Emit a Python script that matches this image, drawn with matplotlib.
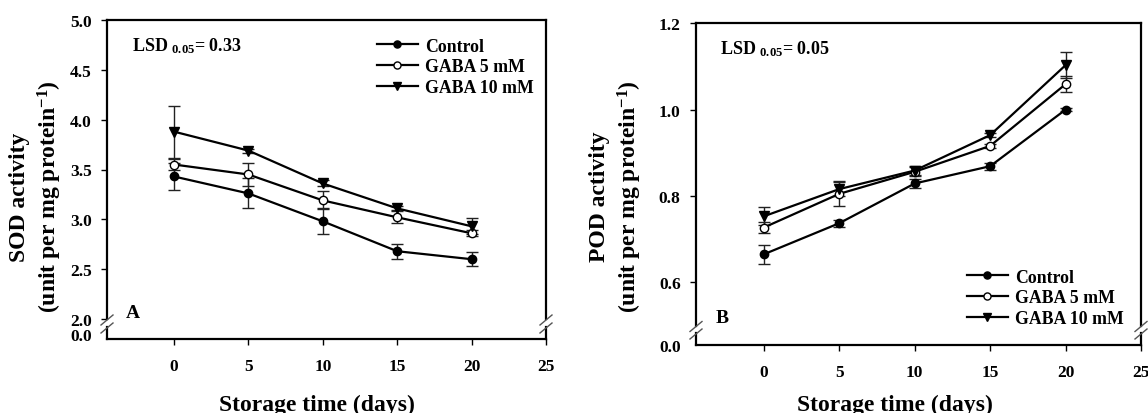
import numpy as np
import matplotlib
matplotlib.use('Agg')
import matplotlib.pyplot as plt
from matplotlib.lines import Line2D

plt.rcParams['font.family'] = ['Liberation Serif', 'DejaVu Serif']
plt.rcParams['font.weight'] = 'bold'
plt.rcParams['mathtext.fontset'] = 'custom'
plt.rcParams['mathtext.rm'] = 'Liberation Serif:bold'
plt.rcParams['mathtext.bf'] = 'Liberation Serif:bold'
plt.rcParams['mathtext.it'] = 'Liberation Serif:bold'

# ---------------- data ----------------
days = [0, 5, 10, 15, 20]
series_names = ['Control', 'GABA 5 mM', 'GABA 10 mM']

sod_control = [3.43, 3.26, 2.98, 2.68, 2.60]
sod_control_err = [0.14, 0.15, 0.13, 0.075, 0.07]
sod_gaba5 = [3.55, 3.45, 3.19, 3.02, 2.86]
sod_gaba5_err = [0.06, 0.12, 0.09, 0.06, 0.03]
sod_gaba10 = [3.88, 3.69, 3.36, 3.11, 2.93]
sod_gaba10_err = [0.26, 0.02, 0.03, 0.02, 0.08]

pod_control = [0.665, 0.737, 0.829, 0.869, 1.000]
pod_control_err = [0.022, 0.008, 0.011, 0.008, 0.003]
pod_gaba5 = [0.727, 0.805, 0.856, 0.916, 1.059]
pod_gaba5_err = [0.013, 0.029, 0.010, 0.005, 0.018]
pod_gaba10 = [0.753, 0.816, 0.859, 0.941, 1.103]
pod_gaba10_err = [0.021, 0.017, 0.010, 0.005, 0.030]

x_ticks = [0, 5, 10, 15, 20, 25]
sod_yticks = [2.0, 2.5, 3.0, 3.5, 4.0, 4.5, 5.0]
pod_yticks = [0.6, 0.8, 1.0, 1.2]

W, H = 1148, 414
fig = plt.figure(figsize=(W / 100, H / 100), dpi=100)


def rect(l, t, r, b):
    return [l / W, 1 - b / H, (r - l) / W, (b - t) / H]


styles = [
    dict(marker='o', mfc='black', mec='black', ms=6),
    dict(marker='o', mfc='white', mec='black', ms=6, mew=1.0),
    dict(marker='v', mfc='black', mec='black', ms=6.5),
]

TICK_FS = 12.5


def make_panel(upper_rect, lower_rect, ylim, yticks, lower_ylim, data, errs,
               leg_anchor, lsd_pos, lsd_text, lab_pos, lab, ylab_x, xlab_pos, ylabel1):
    axu = fig.add_axes(rect(*upper_rect))
    axl = fig.add_axes(rect(*lower_rect), sharex=axu)
    for ax in (axu, axl):
        ax.set_xlim(-4.5, 25)
        for s in ax.spines.values():
            s.set_linewidth(1.6)
        ax.tick_params(direction='out', width=1.0, length=4)
    axu.spines['bottom'].set_visible(False)
    axl.spines['top'].set_visible(False)
    axu.tick_params(axis='x', bottom=False, labelbottom=False)
    axu.set_ylim(*ylim)
    axu.set_yticks(yticks)
    axu.set_yticklabels([f'{v:.1f}' for v in yticks], fontsize=TICK_FS)
    axu.tick_params(axis='y', pad=7)
    axl.set_ylim(*lower_ylim)
    axl.set_yticks([0])
    axl.set_yticklabels(['0.0'], fontsize=TICK_FS)
    axl.tick_params(axis='y', length=0, pad=11)
    axl.set_xticks(x_ticks)
    axl.set_xticklabels([str(v) for v in x_ticks], fontsize=TICK_FS)
    axl.tick_params(axis='x', pad=10)

    handles = []
    for vals, e, st, name in zip(data, errs, styles, series_names):
        axu.errorbar(days, vals, yerr=e, fmt='none', ecolor='#222222',
                     elinewidth=1.0, capsize=4, capthick=1.0, zorder=2)
        h, = axu.plot(days, vals, color='black', lw=1.6, zorder=3, label=name, **st)
        handles.append(h)

    axu.legend(handles=handles, loc='center left',
               bbox_to_anchor=(leg_anchor[0] / W, 1 - leg_anchor[1] / H),
               bbox_transform=fig.transFigure, frameon=False,
               fontsize=12.8, handlelength=2.3, handletextpad=0.4,
               labelspacing=0.22, borderpad=0, borderaxespad=0, numpoints=1,
               markerscale=0.85)

    fig.text(lsd_pos[0] / W, 1 - lsd_pos[1] / H, lsd_text, fontsize=13,
             ha='left', va='baseline')
    fig.text(lab_pos[0] / W, 1 - lab_pos[1] / H, lab, fontsize=14,
             ha='left', va='baseline')
    fig.text(ylab_x[0] / W, 1 - 197 / H, ylabel1, fontsize=17, rotation=90,
             ha='center', va='center')
    fig.text(ylab_x[1] / W, 1 - 197 / H, r'(unit per mg protein$^{-1}$)',
             fontsize=17, rotation=90, ha='center', va='center')
    fig.text(xlab_pos[0] / W, 1 - xlab_pos[1] / H, 'Storage time (days)',
             fontsize=17, ha='center', va='baseline')

    # break marks
    gy_top = upper_rect[3]
    gy_bot = lower_rect[1]
    for xs in (upper_rect[0], upper_rect[2]):
        for yc in (gy_top + 1, gy_bot + 1):
            line = Line2D([(xs - 6) / W, (xs + 6) / W],
                          [1 - (yc + 5) / H, 1 - (yc - 5) / H],
                          transform=fig.transFigure, color='#555555', lw=1.0)
            fig.add_artist(line)
    return axu, axl


make_panel((107, 21, 546, 320), (107, 328, 546, 340), (2.0, 5.0), sod_yticks,
           (-5, 7),
           [sod_control, sod_gaba5, sod_gaba10],
           [sod_control_err, sod_gaba5_err, sod_gaba10_err],
           (377, 68), (132, 51), r'LSD $_{0.05}$= 0.33', (126, 318), 'A',
           (20, 50), (317, 411), 'SOD activity')

make_panel((696, 24.3, 1141, 326.5), (696, 334, 1141, 346), (0.5, 1.2), pod_yticks,
           (0, 12),
           [pod_control, pod_gaba5, pod_gaba10],
           [pod_control_err, pod_gaba5_err, pod_gaba10_err],
           (967, 299), (720, 54), r'LSD $_{0.05}$= 0.05', (716, 323), 'B',
           (600, 630), (895, 411), 'POD activity')

fig.savefig('out.png', dpi=100)
